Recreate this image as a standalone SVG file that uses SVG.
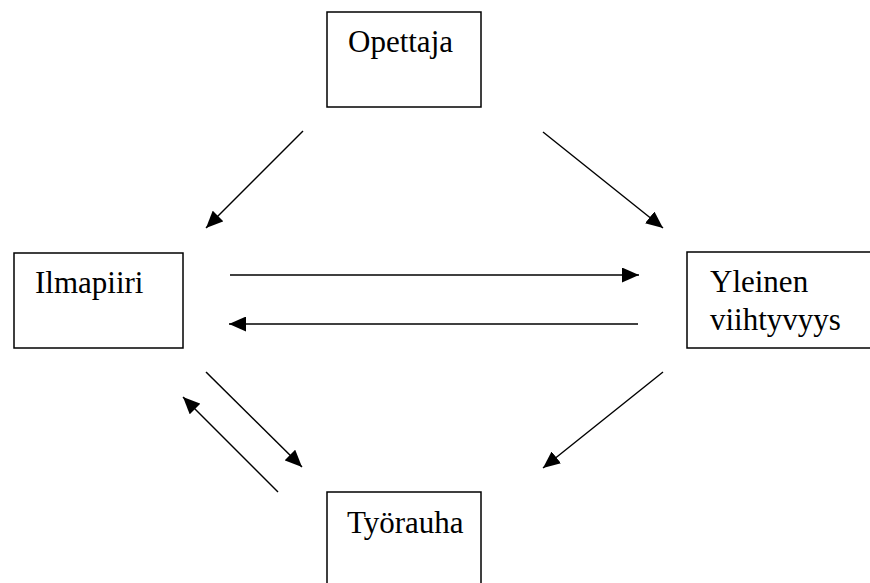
<svg xmlns="http://www.w3.org/2000/svg" width="870" height="583" viewBox="0 0 870 583">
<style>
.box{fill:#fff;stroke:#000;stroke-width:1.5}
.lbl{font-family:"Liberation Serif","Times New Roman",serif;font-size:31px;fill:#000}
.conn{stroke:#000;stroke-width:1.5;fill:none;marker-end:url(#ah)}
</style>
<defs>
<marker id="ah" markerUnits="userSpaceOnUse" markerWidth="17" markerHeight="15" refX="17" refY="7.5" orient="auto">
<path d="M0,0 L17,7.5 L0,15 Z" fill="#000"/>
</marker>
</defs>
<rect width="870" height="583" fill="#fff"/>
<g id="connectors">
<line class="conn" x1="303" y1="131" x2="206" y2="228"/>
<line class="conn" x1="543" y1="132" x2="663" y2="228"/>
<line class="conn" x1="230" y1="275" x2="639" y2="275"/>
<line class="conn" x1="638" y1="324" x2="229" y2="324"/>
<line class="conn" x1="663" y1="372" x2="543" y2="468"/>
<line class="conn" x1="206" y1="372" x2="302" y2="467"/>
<line class="conn" x1="278" y1="492" x2="183" y2="397"/>
</g>
<g id="opettaja">
<rect class="box" x="327" y="12" width="154" height="95"/>
<text class="lbl" x="348" y="52">Opettaja</text>
</g>
<g id="ilmapiiri">
<rect class="box" x="14" y="253" width="169" height="95"/>
<text class="lbl" x="35" y="293">Ilmapiiri</text>
</g>
<g id="yleinen">
<rect class="box" x="687" y="252" width="190" height="96"/>
<text class="lbl" x="710" y="292">Yleinen</text>
<text class="lbl" x="710" y="330">viihtyvyys</text>
</g>
<g id="tyorauha">
<rect class="box" x="327" y="492" width="154" height="100"/>
<text class="lbl" x="347" y="533">Työrauha</text>
</g>
</svg>
